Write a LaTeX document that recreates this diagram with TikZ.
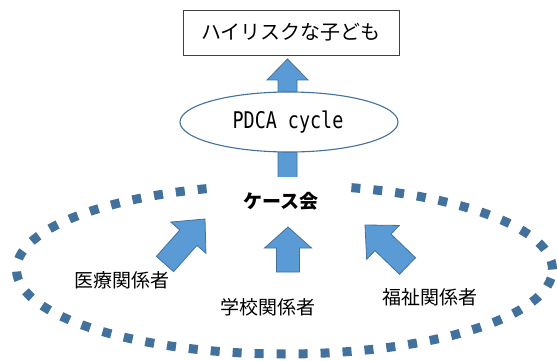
\documentclass[tikz,border=0pt]{standalone}
\usepackage{fontspec}
\newfontfamily\jp{Noto Sans CJK JP}
\newfontfamily\monof{DejaVu Sans Mono}
\usetikzlibrary{calc,shapes.geometric}
\definecolor{edgeblue}{HTML}{41719C}
\definecolor{fillblue}{HTML}{5B9BD5}
\tikzset{
  barrow/.style={draw=edgeblue, line width=0.8pt, fill=fillblue, line join=miter},
  dashring/.style={draw=edgeblue, line width=9pt, dash pattern=on 9pt off 13pt, line cap=butt},
  goalbox/.style={draw=black!75, line width=0.9pt, fill=white, minimum width=216pt, minimum height=45pt, inner sep=0pt, font=\jp\fontsize{20}{20}\selectfont},
  cycleell/.style={draw=edgeblue, line width=1.1pt, fill=white, inner sep=0pt},
  lbl/.style={inner sep=0pt, font=\jp\fontsize{19}{19}\selectfont},
}
\newcommand\blockarr[5]{% tail, tip, shaft width, head width, head length
  \coordinate (hb) at ($(#2)!#5!(#1)$);
  \draw[barrow] ($(#1)!#3/2!90:(#2)$) -- ($(hb)!#3/2!90:(#2)$) -- ($(hb)!#4/2!90:(#2)$) -- (#2)
    -- ($(hb)!#4/2!-90:(#2)$) -- ($(hb)!#3/2!-90:(#2)$) -- ($(#1)!#3/2!-90:(#2)$) -- cycle;
}
\begin{document}
\begin{tikzpicture}[x=1pt,y=1pt]
\useasboundingbox (0,0) rectangle (558,-361);
\fill[white] (0,0) rectangle (558,-361);
% dashed ring
\draw[dashring] (284.5,-269.5) ellipse [x radius=268, y radius=84.5];
% goal box
\node[goalbox] (goal) at (291,-32.5) {ハイリスクな子ども};
% long arrow from case meeting to goal
\coordinate (upt) at (287.5,-178);
\coordinate (uph) at (287.5,-59);
\blockarr{upt}{uph}{19pt}{41pt}{21pt}
% PDCA ellipse
\node[cycleell, ellipse, minimum width=218pt, minimum height=60pt] (pdca) at (289,-122) {};
\node[inner sep=0pt] (pdcatxt) at (288,-122) {\scalebox{0.8}[1]{\monof\fontsize{23}{23}\selectfont PDCA cycle}};
% case meeting
\node[fill=white, minimum width=126pt, minimum height=48pt, inner sep=0pt, font=\jp\bfseries\fontsize{19}{19}\selectfont] (case) at (281,-201) {ケース会};
% stakeholder arrows
\coordinate (lt) at (165,-264); \coordinate (lh) at (205,-219);
\blockarr{lt}{lh}{23pt}{47pt}{25pt}
\coordinate (mt) at (288,-272); \coordinate (mh) at (288,-227);
\blockarr{mt}{mh}{23pt}{47pt}{21pt}
\coordinate (rt) at (407.5,-266); \coordinate (rh) at (365,-225);
\blockarr{rt}{rh}{23pt}{47pt}{25pt}
% labels
\node[lbl] (med) at (122,-280) {医療関係者};
\node[lbl] (sch) at (268,-307) {学校関係者};
\node[lbl] (wel) at (430,-297) {福祉関係者};
\end{tikzpicture}
\end{document}
